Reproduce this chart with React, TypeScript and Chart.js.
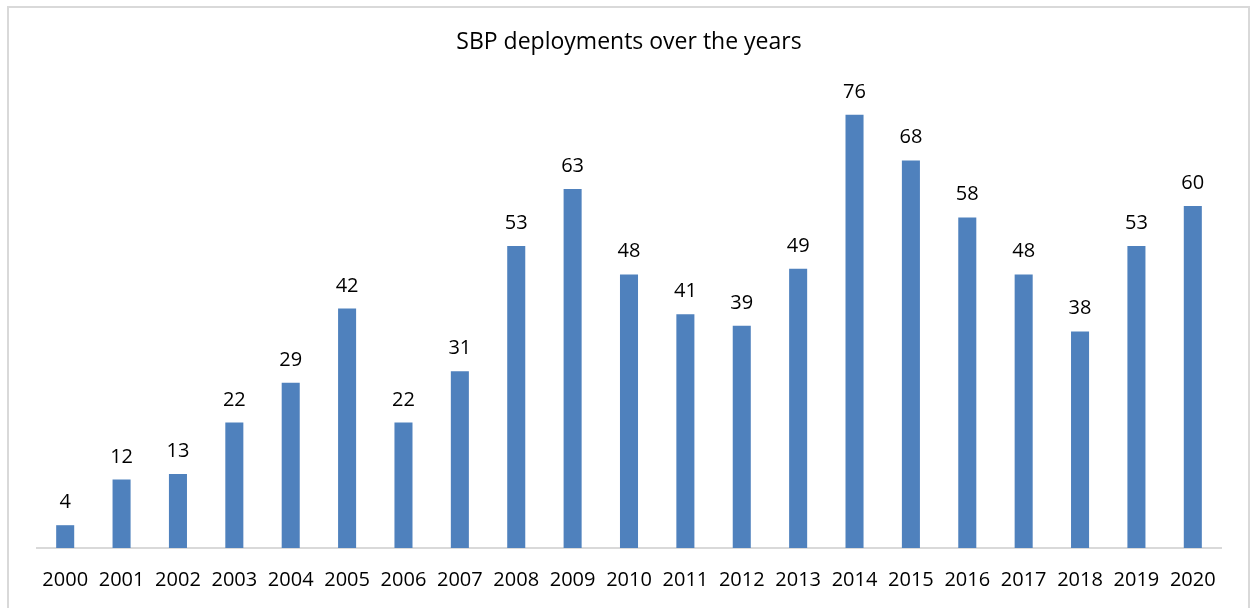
import React, { useEffect, useRef } from "react";
import { Chart, registerables } from "chart.js";

Chart.register(...registerables);

const TITLE = "SBP deployments over the years";
const YEARS = [
  "2000", "2001", "2002", "2003", "2004", "2005", "2006", "2007", "2008", "2009", "2010",
  "2011", "2012", "2013", "2014", "2015", "2016", "2017", "2018", "2019", "2020",
];
const DEPLOYMENTS = [4, 12, 13, 22, 29, 42, 22, 31, 53, 63, 48, 41, 39, 49, 76, 68, 58, 48, 38, 53, 60];
const Y_MAX = 80;

const FONT = "'Open Sans', 'Noto Sans', sans-serif";
const BAR_COLOR = "#4F81BD";
const AXIS_COLOR = "#D9D9D9";

const dataLabels = {
  id: "dataLabels",
  afterDatasetsDraw(chart: any) {
    const ctx = chart.ctx;
    const meta = chart.getDatasetMeta(0);
    ctx.save();
    ctx.font = `20px ${FONT}`;
    ctx.fillStyle = "#000000";
    ctx.textAlign = "center";
    ctx.textBaseline = "alphabetic";
    meta.data.forEach((bar: any, i: number) => {
      ctx.fillText(String(chart.data.datasets[0].data[i]), bar.x, bar.y - 17);
    });
    ctx.restore();
  },
};

export default function App() {
  const ref = useRef<HTMLCanvasElement | null>(null);

  useEffect(() => {
    if (!ref.current) return;
    const chart = new Chart(ref.current, {
      type: "bar",
      data: {
        labels: YEARS,
        datasets: [
          {
            data: DEPLOYMENTS,
            backgroundColor: BAR_COLOR,
            borderWidth: 0,
            barPercentage: 0.32,
            categoryPercentage: 1,
          },
        ],
      },
      options: {
        responsive: false,
        animation: false,
        layout: { padding: { left: 37, right: 29, top: 0, bottom: 38 } },
        plugins: {
          legend: { display: false },
          tooltip: { enabled: false },
          title: {
            display: true,
            text: TITLE,
            color: "#000000",
            font: { family: FONT, size: 23, weight: "normal", lineHeight: 1.2 },
            padding: { top: 28.6, bottom: 35.8 },
          },
        },
        scales: {
          x: {
            grid: { display: false, drawTicks: false },
            border: { display: true, color: AXIS_COLOR, width: 2 },
            ticks: {
              color: "#000000",
              font: { family: FONT, size: 20, lineHeight: 1.2 },
              padding: 20,
              maxRotation: 0,
              autoSkip: false,
            },
          },
          y: {
            display: false,
            min: 0,
            max: Y_MAX,
          },
        },
      },
      plugins: [dataLabels],
    });
    return () => chart.destroy();
  }, []);

  return (
    <div
      style={{
        position: "fixed",
        left: 0,
        top: 0,
        width: 1250,
        height: 608,
        overflow: "hidden",
        background: "#ffffff",
      }}
    >
      <div
        style={{
          position: "absolute",
          left: 7,
          top: 6,
          width: 1243,
          height: 700,
          border: `2px solid ${AXIS_COLOR}`,
          boxSizing: "border-box",
        }}
      />
      <canvas
        ref={ref}
        width={1250}
        height={650}
        style={{ position: "absolute", left: 0, top: 0, width: 1250, height: 650 }}
      />
    </div>
  );
}
